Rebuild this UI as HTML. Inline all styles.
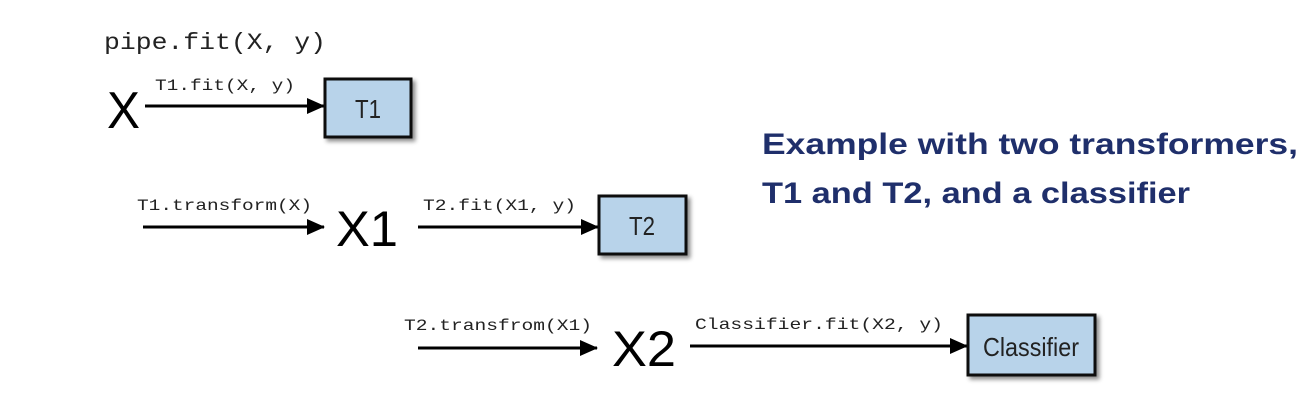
<!DOCTYPE html>
<html><head><style>html,body{margin:0;padding:0;background:#fff;}</style></head>
<body>
<svg width="1313" height="400" xmlns="http://www.w3.org/2000/svg">
<defs>
<marker id="a" markerWidth="18" markerHeight="16" refX="17" refY="8" orient="auto" markerUnits="userSpaceOnUse" viewBox="0 0 18 16"><path d="M0,0 L18,8 L0,16 z" fill="#000"/></marker>
<filter id="s" x="-20%" y="-20%" width="150%" height="150%"><feDropShadow dx="3" dy="3" stdDeviation="2" flood-color="#000" flood-opacity="0.45"/></filter>
</defs>
<g font-family="Liberation Mono, monospace" fill="#222">
<text x="104" y="49" font-size="23" textLength="222" lengthAdjust="spacingAndGlyphs">pipe.fit(X, y)</text>
<text x="155" y="90" font-size="16" textLength="140" lengthAdjust="spacingAndGlyphs">T1.fit(X, y)</text>
<text x="137" y="210" font-size="16" textLength="175" lengthAdjust="spacingAndGlyphs">T1.transform(X)</text>
<text x="423" y="210" font-size="16" textLength="153" lengthAdjust="spacingAndGlyphs">T2.fit(X1, y)</text>
<text x="404" y="330" font-size="16" textLength="188" lengthAdjust="spacingAndGlyphs">T2.transfrom(X1)</text>
<text x="695" y="329" font-size="16" textLength="248" lengthAdjust="spacingAndGlyphs">Classifier.fit(X2, y)</text>
</g>
<g font-family="Liberation Sans, sans-serif" fill="#000">
<text x="107" y="128" font-size="52" textLength="33" lengthAdjust="spacingAndGlyphs">X</text>
<text x="336" y="246" font-size="50" textLength="62" lengthAdjust="spacingAndGlyphs">X1</text>
<text x="612" y="366" font-size="50" textLength="64" lengthAdjust="spacingAndGlyphs">X2</text>
</g>
<g stroke="#000" stroke-width="3" fill="none">
<line x1="145" y1="106" x2="324" y2="106" marker-end="url(#a)"/>
<line x1="143" y1="227" x2="324" y2="227" marker-end="url(#a)"/>
<line x1="418" y1="227" x2="598" y2="227" marker-end="url(#a)"/>
<line x1="418" y1="348" x2="597" y2="348" marker-end="url(#a)"/>
<line x1="690" y1="346" x2="967" y2="346" marker-end="url(#a)"/>
</g>
<g fill="#b8d3ea" stroke="#111" stroke-width="3" filter="url(#s)">
<rect x="325" y="79" width="86" height="58"/>
<rect x="599" y="196" width="87" height="58"/>
<rect x="968" y="315" width="127" height="60"/>
</g>
<g font-family="Liberation Sans, sans-serif" fill="#222" font-size="26" text-anchor="middle">
<text x="368" y="118" textLength="26" lengthAdjust="spacingAndGlyphs">T1</text>
<text x="642" y="235" textLength="26" lengthAdjust="spacingAndGlyphs">T2</text>
<text x="1031" y="356" textLength="96" lengthAdjust="spacingAndGlyphs">Classifier</text>
</g>
<g font-family="Liberation Sans, sans-serif" font-weight="bold" fill="#1f2f6b" font-size="30">
<text x="762" y="154" textLength="536" lengthAdjust="spacingAndGlyphs">Example with two transformers,</text>
<text x="762" y="203" textLength="428" lengthAdjust="spacingAndGlyphs">T1 and T2, and a classifier</text>
</g>
</svg>
</body></html>
